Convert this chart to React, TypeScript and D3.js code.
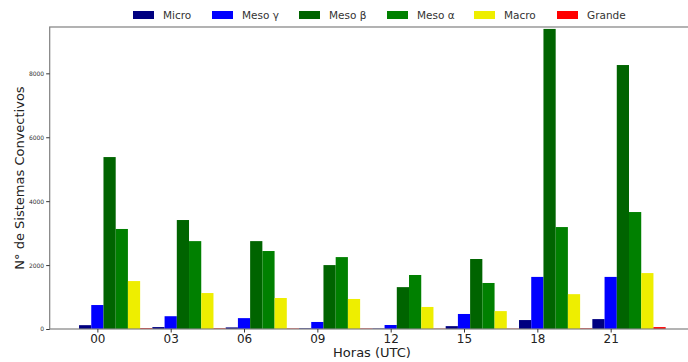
import { FC, useRef, useEffect } from 'react'
import * as d3 from 'd3'

const hours = ['00', '03', '06', '09', '12', '15', '18', '21']
const classes = ['Micro', 'Meso γ', 'Meso β', 'Meso α', 'Macro', 'Grande']
const colors = ['#000080', '#0000ff', '#006400', '#008000', '#eeee00', '#ff0000']

// one array per class, one value per hour
const micro = [120, 60, 50, 20, 15, 90, 280, 310]
const mesoGamma = [750, 400, 340, 220, 125, 470, 1630, 1630]
const mesoBeta = [5380, 3410, 2750, 2000, 1310, 2190, 9390, 8260]
const mesoAlpha = [3130, 2750, 2440, 2250, 1690, 1440, 3190, 3660]
const macro = [1500, 1125, 970, 940, 690, 560, 1090, 1750]
const grande = [25, 20, 15, 15, 10, 10, 20, 60]

const yTicks = [0, 2000, 4000, 6000, 8000]

const App: FC = () => {
  const svgRef = useRef<SVGSVGElement>(null)

  useEffect(() => {
    if (!svgRef.current) return
    const width = 688
    const height = 362
    const svg = d3.select(svgRef.current)
    svg.selectAll('*').remove()
    svg.attr('width', width).attr('height', height)

    const series = [micro, mesoGamma, mesoBeta, mesoAlpha, macro, grande]
    const nb = classes.length
    const left = 49.7
    const right = 695
    const top = 27
    const bottom = 329

    // positions in bar units: group i, bar j -> i*nb + j
    const span = hours.length * nb
    const pad = span * 0.05
    const x = d3.scaleLinear()
      .domain([-0.5 - pad, span - 0.5 + pad])
      .range([left, right])
    const bw = x(1) - x(0)

    const y = d3.scaleLinear()
      .domain([0, 9450])
      .range([bottom, top])

    const bars = series.flatMap((vals, j) =>
      vals.map((v, i) => ({ pos: i * nb + j, value: v, color: colors[j] })))

    svg.append('g')
      .selectAll('rect')
      .data(bars)
      .join('rect')
      .attr('x', d => x(d.pos) - bw / 2)
      .attr('y', d => y(d.value))
      .attr('width', bw)
      .attr('height', d => y(0) - y(d.value))
      .attr('fill', d => d.color)

    // frame
    svg.append('rect')
      .attr('x', left)
      .attr('y', top)
      .attr('width', right - left)
      .attr('height', bottom - top)
      .attr('fill', 'none')
      .attr('stroke', '#808080')
      .attr('stroke-width', 1.2)

    const yAxis = svg.append('g')
      .attr('transform', `translate(${left},0)`)
      .call(d3.axisLeft(y).tickValues(yTicks).tickSize(3.5).tickPadding(2).tickFormat(d3.format('d')))
    yAxis.select('.domain').remove()
    yAxis.selectAll('line').attr('stroke', '#333')
    yAxis.selectAll('text')
      .attr('font-family', 'DejaVu Sans')
      .attr('font-size', 6)
      .attr('fill', '#333')

    const xAxis = svg.append('g')
      .attr('transform', `translate(0,${bottom})`)
      .call(d3.axisBottom(x)
        .tickValues(hours.map((_, i) => i * nb + 1))
        .tickFormat((_, i) => hours[i])
        .tickSize(3.5)
        .tickPadding(1.5))
    xAxis.select('.domain').remove()
    xAxis.selectAll('line').attr('stroke', '#333')
    xAxis.selectAll('text')
      .attr('font-family', 'DejaVu Sans')
      .attr('font-size', 12)
      .attr('fill', '#222')

    svg.append('text')
      .attr('x', 372)
      .attr('y', 357)
      .attr('text-anchor', 'middle')
      .attr('font-family', 'DejaVu Sans')
      .attr('font-size', 13)
      .attr('fill', '#222')
      .text('Horas (UTC)')

    svg.append('text')
      .attr('transform', 'rotate(-90)')
      .attr('x', -178)
      .attr('y', 24)
      .attr('text-anchor', 'middle')
      .attr('font-family', 'DejaVu Sans')
      .attr('font-size', 13)
      .attr('fill', '#222')
      .text('N° de Sistemas Convectivos')

    // legend
    const legendX = [133, 212, 299, 387, 474, 557]
    const lg = svg.append('g')
      .selectAll('g')
      .data(classes)
      .join('g')
      .attr('transform', (_, i) => `translate(${legendX[i]},11)`)
    lg.append('rect')
      .attr('width', 21)
      .attr('height', 8)
      .attr('fill', (_, i) => colors[i])
    lg.append('text')
      .attr('x', 30)
      .attr('y', 8)
      .attr('font-family', 'DejaVu Sans')
      .attr('font-size', 10.5)
      .attr('fill', '#333')
      .text(d => d)
  }, [])

  return (
    <div style={{ position: 'absolute', left: 0, top: 0 }}>
      <svg ref={svgRef} style={{ display: 'block' }} />
    </div>
  )
}

export default App
